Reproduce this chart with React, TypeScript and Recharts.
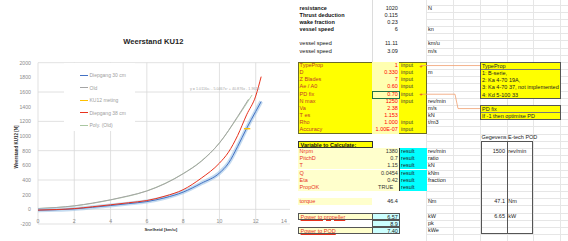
import React from 'react';
import { LineChart, Line, XAxis, YAxis, CartesianGrid } from 'recharts';

// chart data (speed km/u -> resistance N)
const speedTicks = [0, 2, 4, 6, 8, 10, 12, 14];
const forceTicks = [-200, 0, 200, 400, 600, 800, 1000, 1200, 1400, 1600, 1800, 2000];

const diepgang30 = [
  { v: 0, f: -12 }, { v: 1, f: -6 }, { v: 2, f: 6 }, { v: 3, f: 28 }, { v: 4, f: 52 },
  { v: 5, f: 78 }, { v: 6, f: 106 }, { v: 7, f: 158 }, { v: 8, f: 235 }, { v: 9, f: 355 },
  { v: 10, f: 495 }, { v: 10.5, f: 630 }, { v: 11, f: 855 }, { v: 11.5, f: 1105 },
  { v: 12, f: 1335 }, { v: 12.3, f: 1470 },
];
const oldHull = [
  { v: 0, f: 10 }, { v: 1, f: 25 }, { v: 2, f: 48 }, { v: 3, f: 85 }, { v: 4, f: 130 },
  { v: 5, f: 185 }, { v: 6, f: 250 }, { v: 7, f: 350 }, { v: 8, f: 485 }, { v: 9, f: 655 },
  { v: 10, f: 905 }, { v: 11, f: 1265 }, { v: 11.6, f: 1500 },
];
const ku12Meting = [{ v: 11.35, f: 1100 }, { v: 11.7, f: 1100 }];
const diepgang38 = [
  { v: 0, f: -10 }, { v: 1, f: -3 }, { v: 2, f: 10 }, { v: 3, f: 35 }, { v: 4, f: 62 },
  { v: 5, f: 90 }, { v: 6, f: 120 }, { v: 7, f: 180 }, { v: 8, f: 268 }, { v: 9, f: 425 },
  { v: 10, f: 630 }, { v: 10.5, f: 780 }, { v: 11, f: 1005 }, { v: 11.5, f: 1290 },
  { v: 12, f: 1545 }, { v: 12.3, f: 1810 },
];
const polyOld = [
  { v: 0, f: 12 }, { v: 2, f: 46 }, { v: 4, f: 128 }, { v: 6, f: 252 }, { v: 8, f: 488 },
  { v: 9, f: 660 }, { v: 10, f: 905 }, { v: 11, f: 1255 }, { v: 11.8, f: 1560 },
];

const legendNames = ['Diepgang 30 cm', 'Old', 'KU12 meting', 'Diepgang 38 cm', 'Poly. (Old)'];
const legendColors = ['#4472c4', '#a5a5a5', '#ffc000', '#e8331e', '#a9c7a2'];

// spreadsheet rows: [row, label, value, tag, unit, kind]
const sheetRows: [number, string, string, string, string, string][] = [
  [0, 'resistance', '1020', '', 'N', 'bold'],
  [1, 'Thrust deduction', '0.115', '', '', 'bold'],
  [2, 'wake fraction', '0.23', '', '', 'bold'],
  [3, 'vessel speed', '6', '', 'kn', 'bold'],
  [5, 'vessel speed', '11.11', '', 'km/u', 'plain'],
  [6, 'vessel speed', '3.09', '', 'm/s', 'plain'],
  [8, 'TypeProp', '1', 'input', '', 'input'],
  [9, 'D', '0.330', 'input', 'm', 'input'],
  [10, 'Z Blades', '7', 'input', '', 'input'],
  [11, 'Ae / A0', '0.60', 'input', '', 'input'],
  [12, 'PD fix', '0.70', 'input', '', 'input'],
  [13, 'N max', '1250', 'input', 'rev/min', 'input'],
  [14, 'Va', '2.38', '', 'm/s', 'input'],
  [15, 'T es', '1.153', '', 'kN', 'input'],
  [16, 'Rho', '1.000', 'input', 't/m3', 'input'],
  [17, 'Accuracy', '1.00E-07', 'input', '', 'input'],
  [19, 'Variable to Calculate:', '', '', '', 'header'],
  [20, 'Nrpm', '1380', 'result', 'rev/min', 'result'],
  [21, 'PitchD', '0.7', 'result', 'ratio', 'result'],
  [22, 'T', '1.15', 'result', 'kN', 'result'],
  [23, 'Q', '0.0454', 'result', 'kNm', 'result'],
  [24, 'Eta', '0.42', 'result', 'fraction', 'result'],
  [25, 'PropOK', 'TRUE', 'result', '', 'result'],
  [27, 'torque', '46.4', '', 'Nm', 'torque'],
  [29, 'Power to propeller', '6.57', '', 'kW', 'power'],
  [30, '', '8.9', '', 'pk', 'power'],
  [31, 'Power to POD', '7.40', '', 'kWe', 'power'],
];
const typePropNotes = ['TypeProp', '1: B-serie,', '2: Ka 4-70 19A,', '3: Ka 4-70 37,  not implemented', '4: Kd 5-100 33'];
const pdFixNotes = ['PD fix', 'If -1 then optimise PD'];
const podRows: [number, string, string][] = [[20, '1500', 'rev/min'], [27, '47.1', 'Nm'], [29, '6.65', 'kW']];

const ROW0 = 4.6;
const RH = 7.17;
const COL = [298, 371.7, 399.5, 426.3, 453, 479.8, 506.6, 533.4, 560.2, 587];
const top = (r: number) => ROW0 + RH * r;
const FONT = '"Liberation Sans", Arial, sans-serif';

const Cell = ({ x, y, w, h = RH, bg, border, children, align = 'left', color = '#000', bold, underline, pad = 1.6 }: any) => (
  <div
    style={{
      position: 'absolute', left: x, top: y, width: w, height: h, boxSizing: 'border-box',
      background: bg, border, fontSize: 5.5, lineHeight: `${h}px`, color, textAlign: align,
      fontWeight: bold ? 700 : 400, textDecoration: underline ? 'underline' : 'none',
      paddingLeft: align === 'left' ? pad : 0, paddingRight: align === 'right' ? pad : 0,
      whiteSpace: 'nowrap', overflow: 'visible',
    }}
  >
    {children}
  </div>
);

const SpeedTick = ({ x, y, payload }: any) => (
  <text x={x} y={y - 1} textAnchor="middle" fontSize={5.2} fill="#8c8c8c" fontFamily={FONT}>
    {payload.value}
  </text>
);

const Sheet = () => {
  const cells: React.ReactNode[] = [];
  // light grid on the right part
  for (let r = 0; r <= 32; r++) {
    cells.push(<div key={`h${r}`} style={{ position: 'absolute', left: COL[3], top: top(r), width: 568 - COL[3], height: 0, borderTop: '1px solid #e6e6e6' }} />);
  }
  for (let c = 3; c < 9; c++) {
    cells.push(<div key={`v${c}`} style={{ position: 'absolute', left: COL[c], top: 0, width: 0, height: 241, borderLeft: '1px solid #e6e6e6' }} />);
  }
  cells.push(<div key="vb" style={{ position: 'absolute', left: COL[1], top: 0, width: 0, height: top(8), borderLeft: '1px solid #dcdcdc' }} />);
  // input block frame
  cells.push(<div key="inblk" style={{ position: 'absolute', left: COL[0], top: top(8), width: COL[3] + 1 - COL[0], height: RH * 10, background: '#ffff00', border: '1px solid #6b6b2a', boxSizing: 'border-box' }} />);

  sheetRows.forEach(([r, label, value, tag, unit, kind]) => {
    const y = top(r);
    if (kind === 'bold' || kind === 'plain') {
      cells.push(<Cell key={`l${r}`} x={COL[0]} y={y} w={COL[1] - COL[0]} bold={kind === 'bold'} color="#111">{label}</Cell>);
      cells.push(<Cell key={`b${r}`} x={COL[1]} y={y} w={COL[2] - COL[1]} align="right" color="#222">{value}</Cell>);
    } else if (kind === 'input') {
      cells.push(<Cell key={`l${r}`} x={COL[0]} y={y} w={COL[1] - COL[0]} color="#c0392b">{label}</Cell>);
      cells.push(<Cell key={`b${r}`} x={COL[1]} y={y} w={COL[2] - COL[1]} bg="#ffffb0" align="right" color="#ff0000">{value}</Cell>);
      if (tag) cells.push(<Cell key={`c${r}`} x={COL[2]} y={y} w={COL[3] - COL[2]} color="#3a3a3a">{tag}</Cell>);
    } else if (kind === 'header') {
      cells.push(<Cell key={`l${r}`} x={COL[0]} y={y} w={COL[1] + 1 - COL[0]} bg="#ffff00" border="1px solid #333" bold color="#111">{label}</Cell>);
    } else if (kind === 'result') {
      cells.push(<Cell key={`l${r}`} x={COL[0]} y={y} w={COL[1] - COL[0]} bg="#ffffcc" color="#e8331e">{label}</Cell>);
      cells.push(<Cell key={`b${r}`} x={COL[1]} y={y} w={COL[2] - COL[1]} bg="#ffffcc" align={value === 'TRUE' ? 'center' : 'right'} color="#333">{value}</Cell>);
      cells.push(<Cell key={`c${r}`} x={COL[2]} y={y} w={COL[3] + 1 - COL[2]} bg="#00ffff" color="#222">{tag}</Cell>);
    } else if (kind === 'torque') {
      cells.push(<Cell key={`l${r}`} x={COL[0]} y={y} w={COL[1] - COL[0]} bg="#ffffcc" color="#e8331e">{label}</Cell>);
      cells.push(<Cell key={`b${r}`} x={COL[1]} y={y} w={COL[2] - COL[1]} align="right" color="#222">{value}</Cell>);
    } else if (kind === 'power') {
      if (label) cells.push(<Cell key={`l${r}`} x={COL[0]} y={y} w={COL[1] + 1 - COL[0]} bg="#ffffcc" border="1px solid #555" color="#e8331e" underline>{label}</Cell>);
      cells.push(<Cell key={`b${r}`} x={COL[1]} y={y} w={COL[2] + 1 - COL[1]} bg="#ccffff" border="1px solid #555" align="right" color="#222">{value}</Cell>);
    }
    if (unit) cells.push(<Cell key={`u${r}`} x={COL[3]} y={y} w={COL[4] - COL[3]} color="#222">{unit}</Cell>);
  });
  // cyan result frame line
  cells.push(<div key="resl" style={{ position: 'absolute', left: COL[2] - 0.5, top: top(20), width: 0, height: RH * 6, borderLeft: '1px solid #333' }} />);
  // selected cell (PD fix)
  cells.push(<div key="sel" style={{ position: 'absolute', left: COL[1], top: top(12), width: COL[2] + 1 - COL[1], height: RH + 1, border: '1px solid #217346', boxSizing: 'border-box' }} />);

  // comment boxes
  const noteBox = (key: string, r0: number, lines: string[]) => (
    <div key={key} style={{ position: 'absolute', left: COL[5], top: top(r0), width: COL[8] + 1 - COL[5], height: RH * lines.length + 1, background: '#ffff00', border: '1px solid #555', boxSizing: 'border-box' }}>
      {lines.map((t, i) => (
        <div key={i} style={{ height: RH, lineHeight: `${RH}px`, fontSize: 5.5, paddingLeft: 1.2, whiteSpace: 'nowrap', color: '#222', borderBottom: i === 0 ? '1px solid #777' : 'none', boxSizing: 'border-box' }}>{t}</div>
      ))}
    </div>
  );
  cells.push(noteBox('n1', 8, typePropNotes));
  cells.push(noteBox('n2', 14, pdFixNotes));

  // POD table
  cells.push(<Cell key="podh" x={COL[5]} y={top(18)} w={60} color="#222">{'Gegevens E-tech POD'}</Cell>);
  cells.push(<div key="podbox" style={{ position: 'absolute', left: COL[5] + 1, top: top(19), width: COL[7] - COL[5] - 1, height: RH * 13, border: '1px solid #555', boxSizing: 'border-box' }} />);
  cells.push(<div key="podmid" style={{ position: 'absolute', left: COL[6], top: top(19), width: 0, height: RH * 13, borderLeft: '1px solid #555' }} />);
  podRows.forEach(([r, v, u]) => {
    cells.push(<Cell key={`pv${r}`} x={COL[5]} y={top(r)} w={COL[6] - COL[5]} align="right" color="#222">{v}</Cell>);
    cells.push(<Cell key={`pu${r}`} x={COL[6]} y={top(r)} w={COL[7] - COL[6]} color="#222">{u}</Cell>);
  });

  return (
    <div style={{ position: 'absolute', left: 290, top: 0, width: 278, height: 241, background: '#fff', overflow: 'hidden', fontFamily: FONT }}>
      <div style={{ position: 'absolute', left: -290, top: 0, width: 568, height: 241 }}>
        {cells}
        <svg width={568} height={241} style={{ position: 'absolute', left: 0, top: 0 }}>
          <polyline points={`421,${top(8) + RH / 2} 480,${top(8) + RH / 2}`} fill="none" stroke="#f0a070" strokeWidth={0.8} />
          <polyline points={`421,${top(12) + RH / 2} 455,${top(12) + RH / 2} 458,${top(14) + RH / 2} 480,${top(14) + RH / 2}`} fill="none" stroke="#f0a070" strokeWidth={0.8} />
          <text x={421} y={top(8) + RH / 2 + 2} textAnchor="middle" fontSize={6} fill="#e8331e">+</text>
          <text x={421} y={top(12) + RH / 2 + 2} textAnchor="middle" fontSize={6} fill="#e8331e">+</text>
        </svg>
      </div>
    </div>
  );
};

export default function App() {
  return (
    <div style={{ position: 'absolute', left: 0, top: 0, width: 568, height: 241, background: '#fff', overflow: 'hidden', fontFamily: FONT }}>
      <div style={{ position: 'absolute', left: 0, top: 0 }}>
        <LineChart width={292} height={241} margin={{ top: 62.7, right: 0, bottom: 0, left: 0 }}>
          <CartesianGrid stroke="#d9d9d9" strokeWidth={0.8} />
          <XAxis
            dataKey="v" type="number" domain={[0, 14]} ticks={speedTicks} height={17}
            axisLine={false} tickLine={false} tickSize={0} tickMargin={0} tick={<SpeedTick />}
            allowDuplicatedCategory={false}
          />
          <YAxis
            type="number" domain={[-200, 2000]} ticks={forceTicks} width={38}
            axisLine={false} tickLine={false} tickSize={0} tickMargin={7}
            tick={{ fontSize: 5.2, fill: '#8c8c8c', fontFamily: FONT }}
          />
          <Line data={polyOld} dataKey="f" stroke={legendColors[4]} strokeWidth={0.9} dot={false} activeDot={false} isAnimationActive={false} type="monotone" />
          <Line data={oldHull} dataKey="f" stroke={legendColors[1]} strokeWidth={1} dot={false} activeDot={false} isAnimationActive={false} type="monotone" />
          <Line data={diepgang30} dataKey="f" stroke="#9dc3e6" strokeOpacity={0.6} strokeWidth={4} dot={false} activeDot={false} isAnimationActive={false} type="monotone" />
          <Line data={diepgang30} dataKey="f" stroke={legendColors[0]} strokeWidth={1} dot={false} activeDot={false} isAnimationActive={false} type="monotone" />
          <Line data={diepgang38} dataKey="f" stroke={legendColors[3]} strokeWidth={1} dot={false} activeDot={false} isAnimationActive={false} type="monotone" />
          <Line data={ku12Meting} dataKey="f" stroke={legendColors[2]} strokeWidth={1.4} dot={false} activeDot={false} isAnimationActive={false} type="linear" />
        </LineChart>
      </div>
      {/* legend */}
      <div style={{ position: 'absolute', left: 64, top: 63, width: 71, height: 68, background: '#fff' }}>
        {legendNames.map((n, i) => (
          <div key={n} style={{ position: 'absolute', left: 16, top: 12 + i * 12.6 - 3, height: 6, display: 'flex', alignItems: 'center', fontSize: 5, color: '#a0a0a0', whiteSpace: 'nowrap' }}>
            <span style={{ display: 'inline-block', width: 8, height: i === 3 ? 1.4 : 1, background: legendColors[i], marginRight: 1.5 }} />
            {n}
          </div>
        ))}
      </div>
      <div style={{ position: 'absolute', left: 190, top: 87, fontSize: 3.7, color: '#a8a8a8', whiteSpace: 'nowrap' }}>
        {'y = 1.0116x³ - 5.0467x² + 40.876x - 1.9613'}
      </div>
      <div style={{ position: 'absolute', left: 153.3, top: 40.7, transform: 'translate(-50%, -50%)', fontSize: 7.6, fontWeight: 700, color: '#262626', whiteSpace: 'nowrap' }}>
        Weerstand KU12
      </div>
      <div style={{ position: 'absolute', left: 160.8, top: 229.3, transform: 'translate(-50%, -50%)', fontSize: 4.4, fontWeight: 700, color: '#333', whiteSpace: 'nowrap' }}>
        Snelheid [km/u]
      </div>
      <div style={{ position: 'absolute', left: 15.7, top: 146.7, transform: 'translate(-50%, -50%) rotate(-90deg)', fontSize: 4.5, fontWeight: 700, color: '#333', whiteSpace: 'nowrap' }}>
        Weerstand KU12 [N]
      </div>
      <Sheet />
    </div>
  );
}
